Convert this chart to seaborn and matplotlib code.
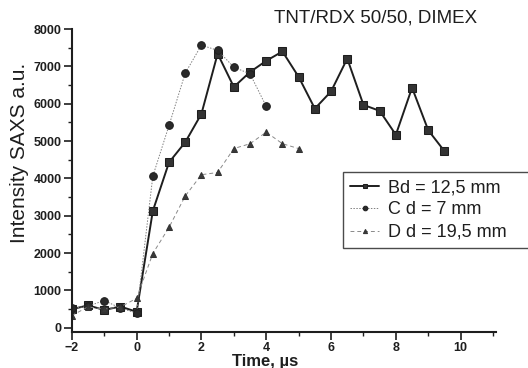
import seaborn as sns
from matplotlib import pyplot as plt
from matplotlib.ticker import MultipleLocator
import pandas as pd

# time points, us
t_b = [-2, -1.5, -1, -0.5, 0, 0.5, 1, 1.5, 2, 2.5, 3, 3.5, 4, 4.5, 5, 5.5, 6, 6.5, 7, 7.5, 8, 8.5, 9, 9.5]
i_b = [500, 600, 480, 570, 430, 3130, 4430, 4970, 5730, 7340, 6450, 6850, 7150, 7400, 6720, 5870, 6330, 7210, 5970, 5810, 5170, 6430, 5290, 4730]

t_c = [-2, -1.5, -1, -0.5, 0, 0.5, 1, 1.5, 2, 2.5, 3, 3.5, 4]
i_c = [520, 580, 730, 530, 390, 4060, 5420, 6820, 7570, 7430, 6980, 6800, 5930]

t_d = [-2, -1.5, -1, -0.5, 0, 0.5, 1, 1.5, 2, 2.5, 3, 3.5, 4, 4.5, 5]
i_d = [330, 560, 500, 560, 790, 1990, 2690, 3530, 4100, 4160, 4800, 4930, 5240, 4930, 4800]

labels = ['Bd = 12,5 mm', 'C d = 7 mm', 'D d = 19,5 mm']

sns.set_style('ticks')
plt.rcParams['font.family'] = ['Liberation Sans', 'DejaVu Sans']

fig = plt.figure(figsize=(5.28, 3.68), dpi=100)
ax = fig.add_axes([0.136, 0.099, 0.804, 0.822])

ink = '#1e1e1e'
sns.lineplot(x=t_b, y=i_b, ax=ax, color=ink, lw=1.4, marker='s', ms=5.5,
             mec=ink, mfc='#333333', label=labels[0])
sns.lineplot(x=t_c, y=i_c, ax=ax, color='#808080', lw=0.7, ls=(0, (1.5, 1.5)),
             marker='o', ms=5.5, mec=ink, mfc='#2a2a2a', label=labels[1])
sns.lineplot(x=t_d, y=i_d, ax=ax, color='#8a8a8a', lw=0.7, ls=(0, (4, 3)),
             marker='^', ms=5, mec='#333333', mfc='#3a3a3a', label=labels[2])

ax.set_xlim(-2, 11.1)
ax.set_ylim(-100, 8000)
ax.xaxis.set_major_locator(MultipleLocator(2))
ax.xaxis.set_minor_locator(MultipleLocator(1))
ax.yaxis.set_major_locator(MultipleLocator(1000))
ax.yaxis.set_minor_locator(MultipleLocator(500))
ax.tick_params(which='major', direction='out', length=5.5, width=1.2, color=ink,
               labelsize=9, labelcolor=ink, pad=2)
ax.tick_params(which='minor', direction='out', length=3, width=1.0, color=ink)
for lab in ax.get_xticklabels() + ax.get_yticklabels():
    lab.set_fontweight('bold')
sns.despine(ax=ax)
for s in ['left', 'bottom']:
    ax.spines[s].set_linewidth(1.5)
    ax.spines[s].set_color(ink)

ax.set_xlabel('Time, µs', fontsize=12, fontweight='bold', color=ink)
ax.xaxis.set_label_coords(0.455, -0.075)
ax.set_ylabel('Intensity SAXS a.u.', fontsize=15, color=ink)
ax.yaxis.set_label_coords(-0.1, 0.59)

fig.text(0.518, 0.951, 'TNT/RDX 50/50, DIMEX', fontsize=13.5, color=ink, va='center')

leg = ax.legend(loc='upper left', bbox_to_anchor=(0.65, 0.33, 0.42, 0.203),
                bbox_transform=fig.transFigure, mode='expand', fontsize=13,
                frameon=True, fancybox=False, handlelength=1.6, handletextpad=0.5,
                labelspacing=0.3, borderpad=0.4, borderaxespad=0, markerscale=0.6)
leg.get_frame().set_edgecolor(ink)
leg.get_frame().set_linewidth(1.0)
for txt in leg.get_texts():
    txt.set_color(ink)

fig.savefig('out.png', dpi=100)
